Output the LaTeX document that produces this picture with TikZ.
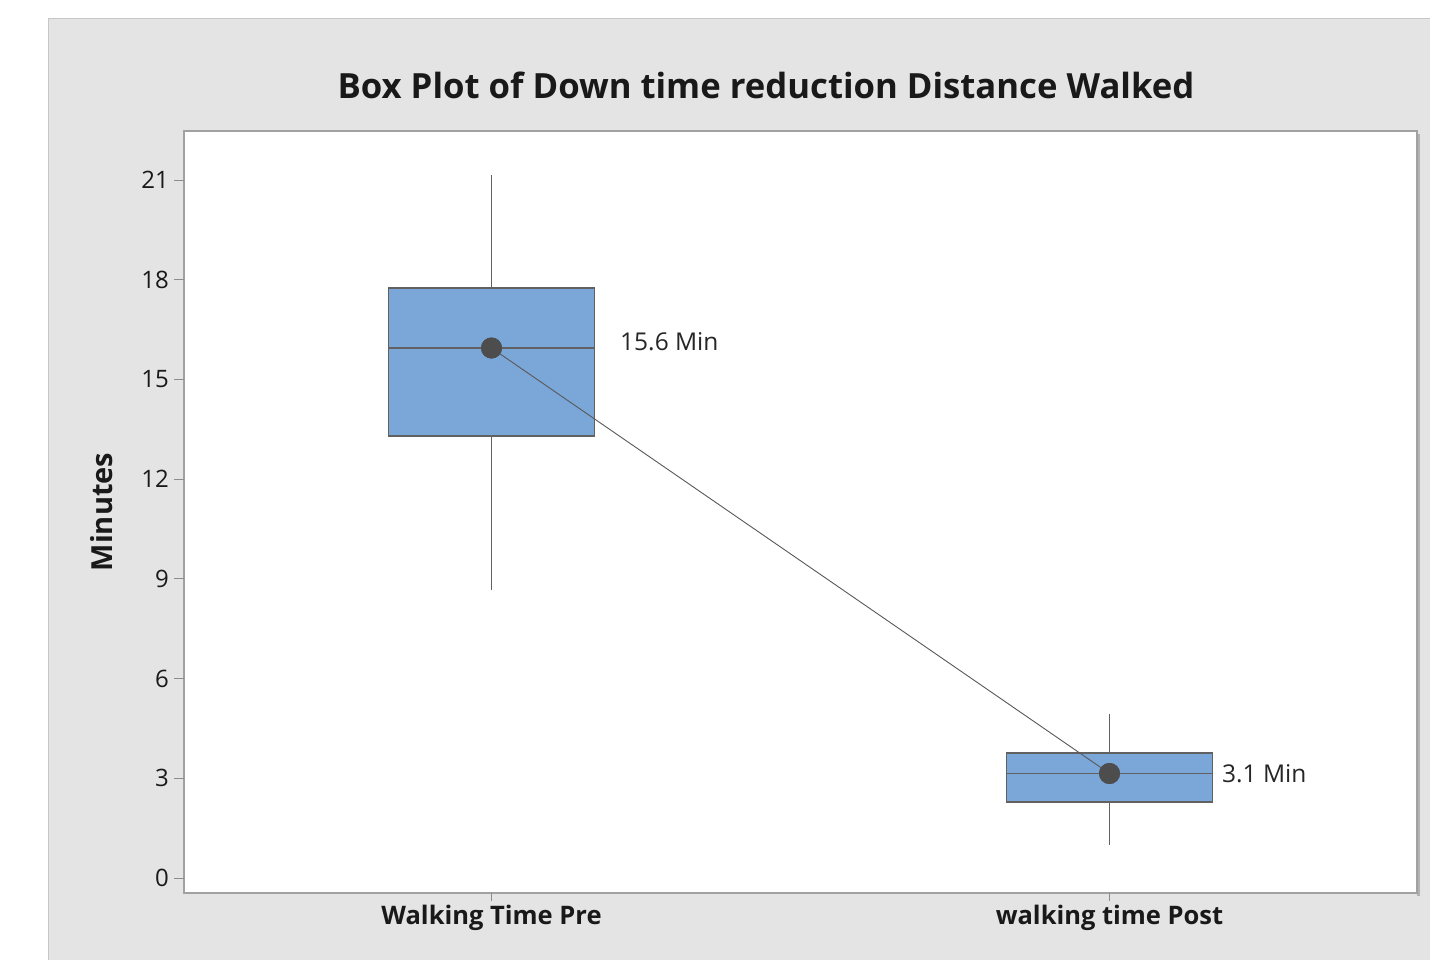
\documentclass[tikz,border=0pt]{standalone}
\usepackage{fontspec}
\setmainfont{Open Sans}
\begin{document}
\begin{tikzpicture}[x=1pt,y=-1pt,
  axisline/.style={draw=black!37, line width=1.2pt},
  tickline/.style={draw=black!45, line width=1pt},
  boxstyle/.style={draw=black!62, fill=boxblue, line width=1.5pt},
  whisker/.style={draw=black!62, line width=1.5pt},
  meandot/.style={circle, fill=dotgray, minimum size=21pt, inner sep=0pt},
  ticklab/.style={anchor=east, font=\fontsize{24}{27}\selectfont, text=black!90, inner sep=0pt},
  catlab/.style={anchor=center, font=\fontsize{25.5}{28}\selectfont\bfseries, text=black!90, inner sep=0pt},
  meanlab/.style={anchor=west, font=\fontsize{24.5}{28}\selectfont, text=black!85, inner sep=0pt}]
\definecolor{boxblue}{RGB}{123,166,216}
\definecolor{dotgray}{RGB}{77,77,77}
\definecolor{bggray}{RGB}{228,228,228}
\useasboundingbox (0,0) rectangle (1430,959);
\fill[white] (0,0) rectangle (1430,959);
\fill[bggray, draw=black!22, line width=1.5pt] (48.5,18.5) rectangle (1440,970);
% plot area with shadow
\fill[black!30] (1417,134) rectangle (1420,896);
\fill[white] (184,131) rectangle (1417,893);
\draw[axisline] (184,131) rectangle (1417,893);
% title
\node[font=\fontsize{34.7}{40}\selectfont\bfseries, text=black!90] (title) at (766,85) {Box Plot of Down time reduction Distance Walked};
% y ticks
\foreach \v/\yy in {0/878,3/778.3,6/678.6,9/578.9,12/479.1,15/379.4,18/279.7,21/180} {
  \draw[tickline] (174,\yy) -- (184,\yy);
  \node[ticklab] at (169,\yy) {\v};
}
\node[rotate=90, font=\fontsize{29}{32}\selectfont\bfseries, text=black!90] (ylab) at (102,512) {Minutes};
% x ticks
\draw[tickline] (491.5,893) -- (491.5,901);
\draw[tickline] (1109.5,893) -- (1109.5,901);
\node[catlab] (xl1) at (491.5,918) {Walking Time Pre};
\node[catlab] (xl2) at (1109.5,918) {walking time Post};
% box 1
\draw[whisker] (491.5,175) -- (491.5,288);
\draw[whisker] (491.5,436) -- (491.5,590);
\draw[boxstyle] (388.5,288) rectangle (594.5,436);
\draw[whisker] (388.5,348) -- (594.5,348);
% box 2
\draw[whisker] (1109.5,714) -- (1109.5,753);
\draw[whisker] (1109.5,802) -- (1109.5,845);
\draw[boxstyle] (1006.5,753) rectangle (1212.5,802);
\draw[whisker] (1006.5,773.5) -- (1212.5,773.5);
% mean dots and connector
\node[meandot] (m1) at (491.5,348) {};
\node[meandot] (m2) at (1109.5,773.5) {};
\draw[black!65, line width=0.9pt] (m1.center) -- (m2.center);
\node[meandot] at (m1) {};
\node[meandot] at (m2) {};
\node[meanlab] (l1) at (620,342) {15.6 Min};
\node[meanlab] (l2) at (1222,773.5) {3.1 Min};
\end{tikzpicture}
\end{document}
